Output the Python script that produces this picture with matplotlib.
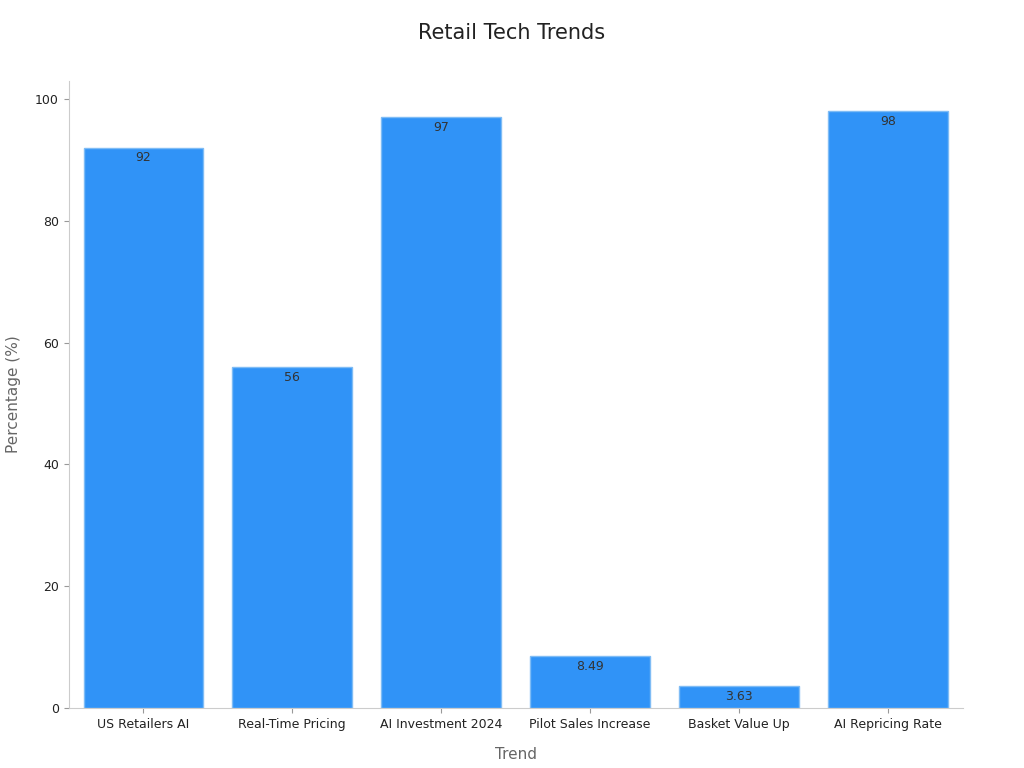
import matplotlib.pyplot as plt

categories = ["US Retailers AI", "Real-Time Pricing", "AI Investment 2024",
              "Pilot Sales Increase", "Basket Value Up", "AI Repricing Rate"]
values = [92, 56, 97, 8.49, 3.63, 98]
labels = ["92", "56", "97", "8.49", "3.63", "98"]

fig, ax = plt.subplots(figsize=(10.24, 7.68), dpi=100)
fig.subplots_adjust(left=0.067, right=0.94, top=0.895, bottom=0.078)

bars = ax.bar(range(len(categories)), values, width=0.8, color="#3093f7",
              edgecolor="#7fbcf5", linewidth=1)
for i, (v, t) in enumerate(zip(values, labels)):
    ax.text(i, v - 0.6, t, ha="center", va="top", fontsize=9, color="#333333")

ax.set_xticks(range(len(categories)))
ax.set_xticklabels(categories, fontsize=9, color="#222222")
ax.tick_params(axis="y", labelsize=9, colors="#222222")
ax.tick_params(color="#999999")
ax.set_xlim(-0.5, 5.5)
ax.set_ylim(0, 103)
ax.set_yticks([0, 20, 40, 60, 80, 100])
for s in ["top", "right"]:
    ax.spines[s].set_visible(False)
for s in ["left", "bottom"]:
    ax.spines[s].set_color("#cccccc")
ax.set_xlabel("Trend", fontsize=11, color="#666666", labelpad=12)
ax.set_ylabel("Percentage (%)", fontsize=11, color="#666666", labelpad=10)
fig.suptitle("Retail Tech Trends", fontsize=15, color="#222222", y=0.97)

fig.savefig("out.png")
